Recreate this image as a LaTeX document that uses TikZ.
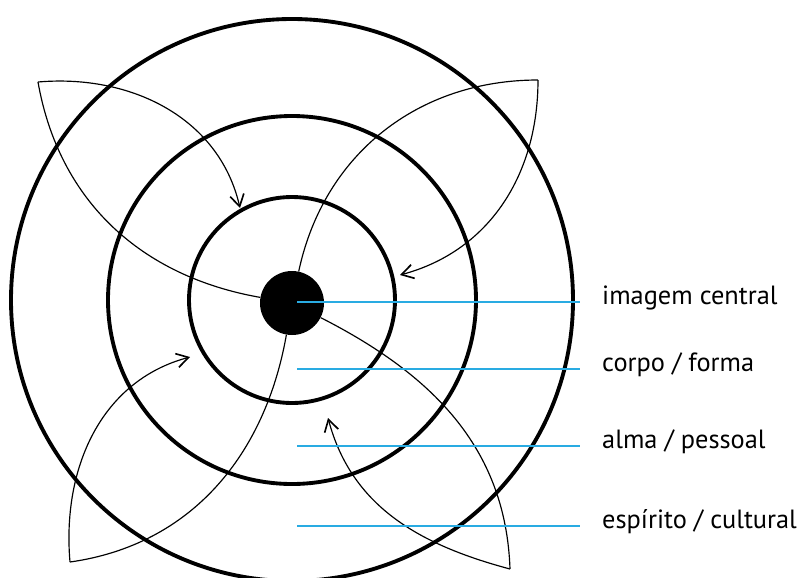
\documentclass[tikz,border=0pt]{standalone}
\usepackage{fontspec}
\setmainfont{PT Sans}
\usetikzlibrary{arrows.meta}
\definecolor{guideblue}{RGB}{41,171,226}

\begin{document}
\begin{tikzpicture}[x=0.03cm, y=-0.03cm,
  ring/.style={line width=3.3pt},
  petal/.style={line width=1pt},
  barb/.style={-{Straight Barb[length=10pt, width=12pt, line width=1.4pt]}},
  guide/.style={draw=guideblue, line width=1.6pt, shorten >=0.66cm},
  label/.style={anchor=mid west, inner sep=0pt, font=\fontsize{22.5}{24}\selectfont}]
  \useasboundingbox (0,0) rectangle (803,577);

  % rings round the centre
  \coordinate (c) at (292,300);
  \draw[ring] (c) circle [radius=103];
  \draw[ring] (c) circle [radius=184];
  \draw[ring] (c) circle [radius=281];
  \node (dot) [circle, fill, inner sep=0pt, minimum size=1.92cm] at (292,303) {};

  % petal tips and arrow ends
  \coordinate (tl) at (38,82);
  \coordinate (tr) at (538,80);
  \coordinate (bl) at (70,562);
  \coordinate (br) at (510,569);
  \coordinate (tlend) at (240,208);
  \coordinate (trend) at (400,275);
  \coordinate (blend) at (190,357);
  \coordinate (brend) at (328,418);

  % petals
  \draw[petal, barb] (tl) to[out=5, in=103] (tlend);
  \draw[petal] (tl) to[out=-80, in=170] (dot);
  \draw[petal] (tr) to[out=180, in=78] (dot);
  \draw[petal, barb] (tr) to[out=-90, in=15] (trend);
  \draw[petal, barb] (bl) to[out=95, in=-165] (blend);
  \draw[petal] (bl) to[out=8, in=-100] (dot);
  \draw[petal] (br) to[out=92, in=-27] (dot);
  \draw[petal, barb] (br) to[out=165, in=-75] (brend);

  % labels with guide lines
  \node (central) [label] at (602,302) {imagem central};
  \node (corpo) [label] at (602,369) {corpo / forma};
  \node (alma) [label] at (602,446) {alma / pessoal};
  \node (espirito) [label] at (602,526) {espírito / cultural};
  \coordinate (g1) at (297,302);
  \coordinate (g2) at (297,369);
  \coordinate (g3) at (297,446);
  \coordinate (g4) at (297,526);
  \draw[guide] (g1) -- (central.mid west);
  \draw[guide] (g2) -- (corpo.mid west);
  \draw[guide] (g3) -- (alma.mid west);
  \draw[guide] (g4) -- (espirito.mid west);
\end{tikzpicture}
\end{document}
